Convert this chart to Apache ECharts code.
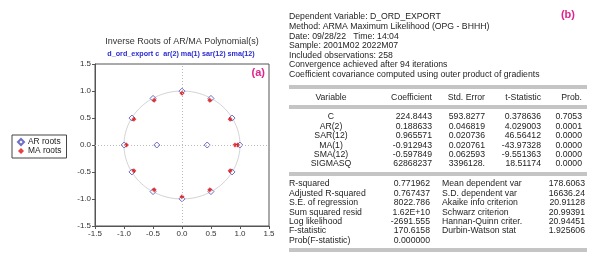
<!DOCTYPE html>
<html>
<head>
<meta charset="utf-8">
<script src="https://cdn.jsdelivr.net/npm/echarts@6/dist/echarts.min.js"></script>
<style>
  html, body { margin: 0; padding: 0; background: #fff; }
  #main { width: 593px; height: 260px; }
</style>
</head>
<body>
<div id="main"></div>
<script>
// inverse roots
var arRootX = [0.997, 0.863, 0.499, 0, -0.499, -0.863, -0.997, -0.863, -0.499, 0, 0.499, 0.863, 0.434, -0.434];
var arRootY = [0, 0.499, 0.863, 0.997, 0.863, 0.499, 0, -0.499, -0.863, -0.997, -0.863, -0.499, 0, 0];
var maRootX = [0.958, 0.830, 0.479, 0, -0.479, -0.830, -0.958, -0.830, -0.479, 0, 0.479, 0.830, 0.913];
var maRootY = [0, 0.479, 0.830, 0.958, 0.830, 0.479, 0, -0.479, -0.830, -0.958, -0.830, -0.479, 0];

// estimation output
var headerLines = [
  'Dependent Variable: D_ORD_EXPORT',
  'Method: ARMA Maximum Likelihood (OPG - BHHH)',
  'Date: 09/28/22   Time: 14:04',
  'Sample: 2001M02 2022M07',
  'Included observations: 258',
  'Convergence achieved after 94 iterations',
  'Coefficient covariance computed using outer product of gradients'
];
var colHeads = ['Variable', 'Coefficient', 'Std. Error', 't-Statistic', 'Prob.'];
var variables = ['C', 'AR(2)', 'SAR(12)', 'MA(1)', 'SMA(12)', 'SIGMASQ'];
var coefs = ['224.8443', '0.188633', '0.965571', '-0.912943', '-0.597849', '62868237'];
var stdErrs = ['593.8277', '0.046819', '0.020736', '0.020761', '0.062593', '3396128.'];
var tStats = ['0.378636', '4.029003', '46.56412', '-43.97328', '-9.551363', '18.51174'];
var probs = ['0.7053', '0.0001', '0.0000', '0.0000', '0.0000', '0.0000'];
var statNames1 = ['R-squared', 'Adjusted R-squared', 'S.E. of regression', 'Sum squared resid', 'Log likelihood', 'F-statistic', 'Prob(F-statistic)'];
var statVals1 = ['0.771962', '0.767437', '8022.786', '1.62E+10', '-2691.555', '170.6158', '0.000000'];
var statNames2 = ['Mean dependent var', 'S.D. dependent var', 'Akaike info criterion', 'Schwarz criterion', 'Hannan-Quinn criter.', 'Durbin-Watson stat'];
var statVals2 = ['178.6063', '16636.24', '20.91128', '20.99391', '20.94451', '1.925606'];

var myChart = echarts.init(document.getElementById('main'));

var FONT = 'Liberation Sans, Arial, sans-serif';
var txtColor = '#1e1e1e';

function txt(x, y, s, align, extra) {
  var st = { text: s, font: '8.7px ' + FONT, fill: txtColor, textAlign: align || 'left', textVerticalAlign: 'middle' };
  if (extra) { for (var k in extra) st[k] = extra[k]; }
  return { type: 'text', x: x, y: y, style: st, silent: true };
}
function dbl(y) {
  return [
    { type: 'line', shape: { x1: 289, y1: y, x2: 587, y2: y }, style: { stroke: '#8a8a8a', lineWidth: 1 } },
    { type: 'line', shape: { x1: 289, y1: y + 2, x2: 587, y2: y + 2 }, style: { stroke: '#8a8a8a', lineWidth: 1 } }
  ];
}

var g = [];
// left panel titles
g.push(txt(182, 42, 'Inverse Roots of AR/MA Polynomial(s)', 'center', { font: '9px ' + FONT, fill: '#333' }));
g.push(txt(181, 54, 'd_ord_export c  ar(2) ma(1) sar(12) sma(12)', 'center', { font: 'bold 7.2px ' + FONT, fill: '#2a2ad0' }));
g.push(txt(265, 73, '(a)', 'right', { font: 'bold 11px ' + FONT, fill: '#e0248c' }));
g.push(txt(575, 15, '(b)', 'right', { font: 'bold 11px ' + FONT, fill: '#e0248c' }));

// header lines
headerLines.forEach(function (s, i) { g.push(txt(289, 17 + i * 9.6, s)); });
g = g.concat(dbl(86));
var colX = [331, 432, 485, 541, 582];
colHeads.forEach(function (s, i) { g.push(txt(colX[i], 97.5, s, i === 0 ? 'center' : 'right')); });
g = g.concat(dbl(106));
variables.forEach(function (v, i) {
  var y = 117 + i * 9.4;
  g.push(txt(colX[0], y, v, 'center'));
  g.push(txt(colX[1], y, coefs[i], 'right'));
  g.push(txt(colX[2], y, stdErrs[i], 'right'));
  g.push(txt(colX[3], y, tStats[i], 'right'));
  g.push(txt(colX[4], y, probs[i], 'right'));
});
g = g.concat(dbl(173));
statNames1.forEach(function (s, i) {
  var y = 184 + i * 9.4;
  g.push(txt(289, y, s));
  g.push(txt(430, y, statVals1[i], 'right'));
  if (i < statNames2.length) {
    g.push(txt(442, y, statNames2[i]));
    g.push(txt(585, y, statVals2[i], 'right'));
  }
});
g = g.concat(dbl(249));

var axisCommon = {
  type: 'value', min: -1.5, max: 1.5, interval: 0.5,
  axisLine: { show: true, onZero: false, lineStyle: { color: '#555', width: 1 } },
  axisTick: { show: true, length: 3, lineStyle: { color: '#555' } },
  axisLabel: { fontSize: 8, color: '#333', fontFamily: FONT, margin: 4, formatter: function (v) { return v.toFixed(1); } },
  splitLine: { show: false }
};

var option = {
  animation: false,
  backgroundColor: '#fff',
  grid: { left: 95, top: 64, width: 174, height: 162, show: true, borderColor: '#555', borderWidth: 1 },
  xAxis: axisCommon,
  yAxis: axisCommon,
  legend: {
    data: ['AR roots', 'MA roots'],
    orient: 'vertical', left: 12, top: 135,
    itemWidth: 6, itemHeight: 6, itemGap: 1,
    padding: [3, 5, 3, 5],
    borderColor: '#444', borderWidth: 1,
    textStyle: { fontSize: 8.4, color: '#222', fontFamily: FONT, padding: [0, 0, 0, -1] }
  },
  graphic: g,
  series: [
    {
      // unit circle and zero reference lines
      type: 'custom',
      silent: true,
      data: [[0, 0]],
      renderItem: function (params, api) {
        var pts = [];
        for (var a = 0; a <= 360; a += 3) {
          var r = a * Math.PI / 180;
          pts.push(api.coord([Math.cos(r), Math.sin(r)]));
        }
        return { type: 'polyline', shape: { points: pts }, style: { stroke: '#d4d4d4', lineWidth: 1, fill: null } };
      },
      markLine: {
        silent: true, symbol: 'none', label: { show: false },
        lineStyle: { color: '#bdbdbd', type: [1, 2], width: 1 },
        data: [{ xAxis: 0 }, { yAxis: 0 }]
      },
      z: 1
    },
    {
      name: 'AR roots', type: 'scatter', symbol: 'diamond', symbolSize: 6,
      itemStyle: { color: '#fff', borderColor: '#4a4ab8', borderWidth: 1 },
      data: arRootX.map(function (x, i) { return [x, arRootY[i]]; }),
      z: 3
    },
    {
      name: 'MA roots', type: 'scatter', symbol: 'diamond', symbolSize: 5,
      itemStyle: { color: '#e01010' },
      data: maRootX.map(function (x, i) { return [x, maRootY[i]]; }),
      z: 4
    }
  ]
};

myChart.setOption(option);
</script>
</body>
</html>
